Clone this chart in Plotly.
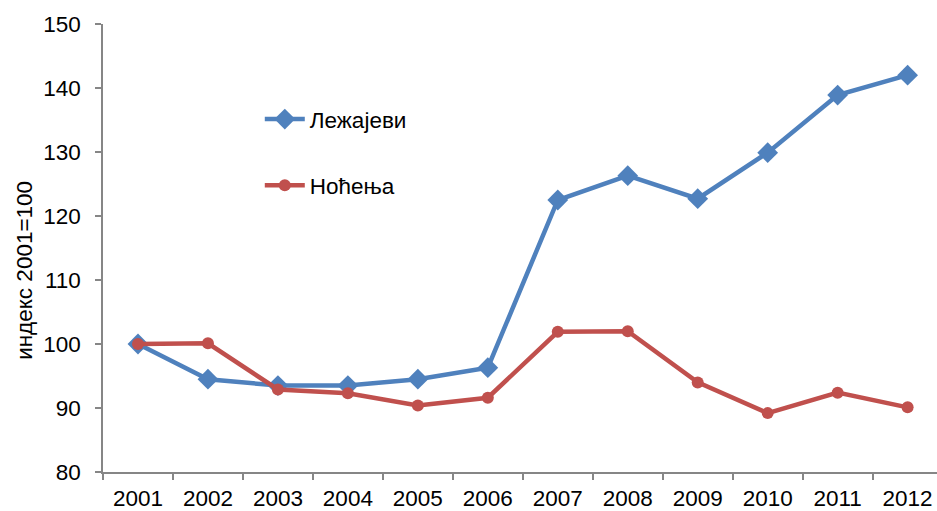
import plotly.graph_objects as go

years = ["2001", "2002", "2003", "2004", "2005", "2006",
         "2007", "2008", "2009", "2010", "2011", "2012"]
lezajevi = [100.0, 94.5, 93.5, 93.5, 94.5, 96.3,
            122.5, 126.3, 122.7, 129.9, 138.9, 142.0]
nocenja = [100.0, 100.1, 92.9, 92.3, 90.4, 91.6,
           101.9, 102.0, 94.0, 89.2, 92.4, 90.1]

blue = "#4F81BD"
red = "#C0504D"
axis_gray = "#868686"
font_family = "Liberation Sans, Arial, sans-serif"
fs = 22.5

fig = go.Figure()
fig.add_trace(go.Scatter(
    x=years, y=lezajevi, name="Лежајеви", mode="lines+markers",
    line=dict(color=blue, width=4.5),
    marker=dict(symbol="diamond", size=16, color=blue),
    legendgroup="a",
))
fig.add_trace(go.Scatter(
    x=years, y=nocenja, name="Ноћења", mode="lines+markers",
    line=dict(color=red, width=4.5),
    marker=dict(symbol="circle", size=12, color=red),
    legendgroup="b",
))

# y-axis title placed as a rotated annotation
fig.add_annotation(
    text="индекс 2001=100", textangle=-90,
    xref="paper", yref="paper", x=-0.0935, y=0.449,
    xanchor="center", yanchor="middle", showarrow=False,
    font=dict(size=fs, family=font_family, color="#000000"),
)

fig.update_layout(
    width=937, height=511,
    margin=dict(l=103, r=0, t=24, b=39),
    paper_bgcolor="white", plot_bgcolor="white",
    font=dict(family=font_family, size=fs, color="#000000"),
    showlegend=True,
    legend=dict(
        x=0.188, y=0.835, xanchor="left", yanchor="top",
        bgcolor="rgba(0,0,0,0)", tracegroupgap=34,
        font=dict(size=fs), itemwidth=40,
    ),
    xaxis=dict(
        type="category", range=[-0.5, 11.42], automargin=False,
        showline=True, linecolor=axis_gray, linewidth=1.5,
        ticks="outside", tickson="boundaries", ticklen=6,
        tickcolor=axis_gray, tickwidth=1.5,
        showgrid=False, zeroline=False,
        ticklabelstandoff=5,
        tickfont=dict(size=fs),
    ),
    yaxis=dict(
        range=[80, 150], dtick=10, automargin=False,
        showline=True, linecolor=axis_gray, linewidth=1.5,
        ticks="outside", ticklen=6, tickcolor=axis_gray, tickwidth=1.5,
        showgrid=False, zeroline=False,
        ticklabelstandoff=10,
        tickfont=dict(size=fs),
    ),
)

fig.write_html("out.html")
